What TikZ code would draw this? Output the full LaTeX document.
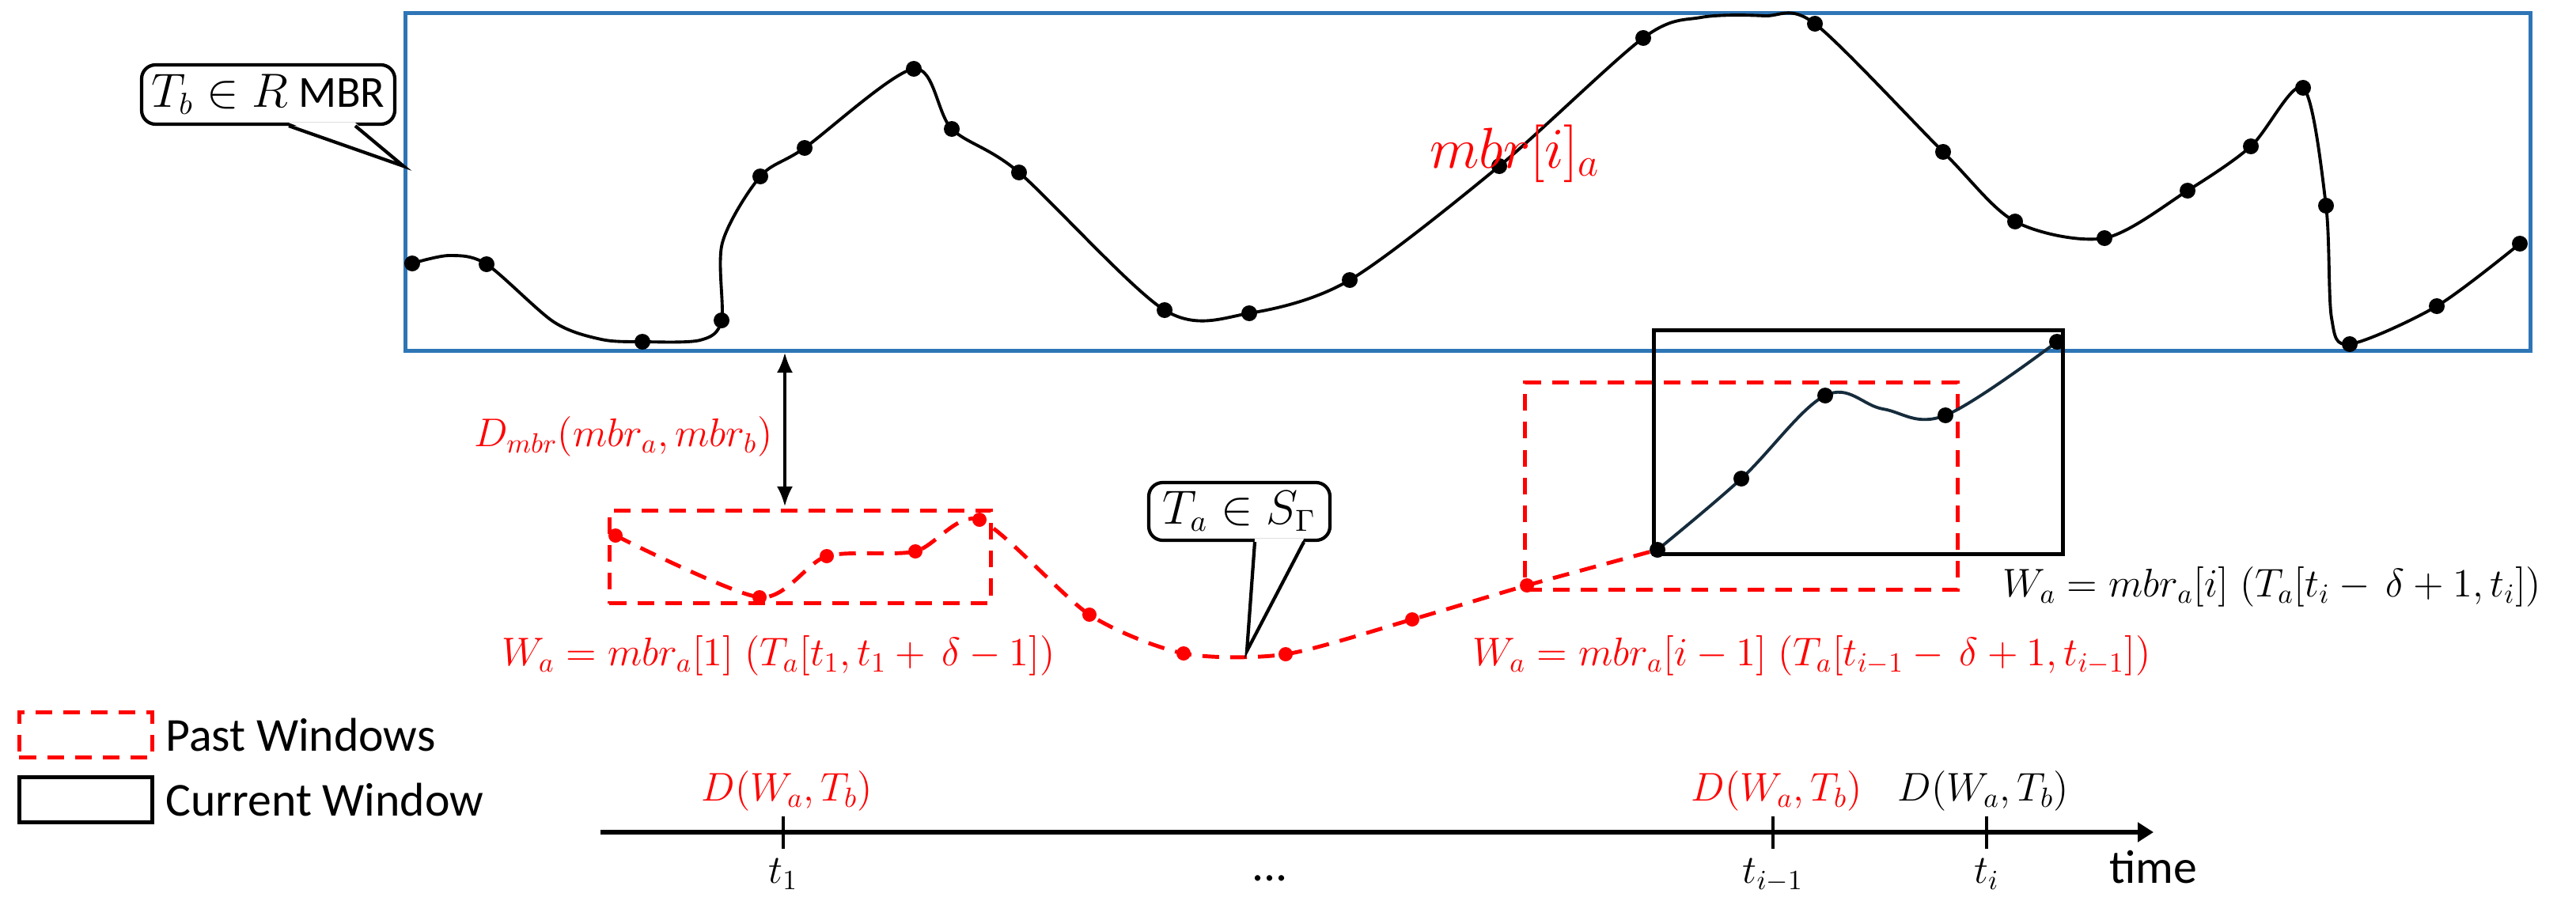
\documentclass[tikz,border=0pt]{standalone}
\usepackage[no-math]{fontspec}
\setmainfont{Carlito}
\usetikzlibrary{arrows.meta,positioning}

\definecolor{mbrblue}{RGB}{46,117,182}
\definecolor{curdark}{RGB}{22,44,60}

\begin{document}
\begin{tikzpicture}[
    mbrframe/.style={draw=mbrblue, line width=1.5pt, inner sep=0pt, anchor=south west},
    pastwin/.style={draw=red, line width=1.4pt, dash pattern=on 6pt off 4pt, inner sep=0pt, anchor=south west},
    curwin/.style={draw=black, line width=1.3pt, inner sep=0pt, anchor=south west},
    callbox/.style={draw, line width=1.2pt, rounded corners=5pt, fill=white, inner sep=0pt, font=\fontsize{16}{18}\selectfont},
    mathlbl/.style={font=\fontsize{14.4}{16}\selectfont, inner sep=0pt},
    textlbl/.style={font=\fontsize{17}{19}\selectfont, inner sep=0pt},
    pastline/.style={red, line width=1.4pt, dash pattern=on 6pt off 4pt},
    tick/.style={line width=1pt}
]
\useasboundingbox (0,0) rectangle (32.56,11.62);

% T_b and its MBR
\node[mbrframe, minimum width=26.86cm, minimum height=4.27cm] (mbrb) at (5.10,7.16) {};
\draw[line width=1.1pt] plot[smooth, tension=0.5] coordinates {
    (5.21,8.29) (5.68,8.39) (6.15,8.28) (7.0,7.55) (7.6,7.33) (8.12,7.30) (8.85,7.32)
    (9.12,7.57) (9.13,8.55) (9.61,9.39) (10.17,9.75) (11.55,10.75) (12.03,9.99)
    (12.88,9.44) (14.72,7.70) (15.79,7.66) (17.06,8.08) (18.95,9.52) (20.77,11.14)
    (21.5,11.40) (22.3,11.42) (22.94,11.32) (24.56,9.70) (25.47,8.82) (26.60,8.61)
    (27.65,9.21) (28.45,9.77) (29.11,10.51) (29.40,9.02) (29.47,7.60) (29.70,7.27)
    (30.80,7.75) (31.85,8.54)};
\foreach \x/\y in {5.21/8.29, 6.15/8.28, 8.12/7.30, 9.12/7.57, 9.61/9.39, 10.17/9.75,
    11.55/10.75, 12.03/9.99, 12.88/9.44, 14.72/7.70, 15.79/7.66, 17.06/8.08, 18.95/9.52,
    20.77/11.14, 22.94/11.32, 24.56/9.70, 25.47/8.82, 26.60/8.61, 27.65/9.21, 28.45/9.77,
    29.11/10.51, 29.40/9.02, 29.70/7.27, 30.80/7.75, 31.85/8.54}
    \fill (\x,\y) circle (0.1);
\node[font=\fontsize{20.74}{24}\selectfont, text=red, anchor=base, inner sep=0pt] (mbrlbl) at (19.15,9.50) {$mbr[i]_a$};

% windows
\node[pastwin, minimum width=4.82cm, minimum height=1.17cm] (pw1) at (7.68,3.97) {};
\node[pastwin, minimum width=5.47cm, minimum height=2.62cm] (pw2) at (19.25,4.14) {};
\node[curwin, minimum width=5.17cm, minimum height=2.83cm] (cw) at (20.88,4.59) {};

% T_a
\draw[pastline] plot[smooth, tension=0.45] coordinates {
    (7.78,4.85) (9.60,4.07) (10.45,4.59) (11.57,4.65) (12.38,5.05) (13.77,3.85)
    (14.96,3.36) (16.25,3.35) (17.85,3.79) (19.30,4.22) (20.95,4.67)};
\foreach \x/\y in {7.78/4.85, 9.60/4.07, 10.45/4.59, 11.57/4.65, 12.38/5.05, 13.77/3.85,
    14.96/3.36, 16.25/3.35, 17.85/3.79, 19.30/4.22}
    \fill[red] (\x,\y) circle (0.09);
\draw[curdark, line width=1.1pt] plot[smooth, tension=0.6] coordinates {
    (20.95,4.67) (22.01,5.57) (23.07,6.62) (23.8,6.45) (24.59,6.37) (26.00,7.30)};
\foreach \x/\y in {20.95/4.67, 22.01/5.57, 23.07/6.62, 24.59/6.37, 26.00/7.30}
    \fill (\x,\y) circle (0.1);

% MBR distance
\coordinate (darr) at (9.92,5.22);
\draw[{Latex[length=2.5mm,width=2mm]}-{Latex[length=2.5mm,width=2mm]}, line width=0.9pt] (darr |- mbrb.south) -- (darr);
\node[mathlbl, text=red, anchor=east] (dmbr) at (9.77,6.10) {$D_{mbr}(mbr_a,mbr_b)$};

% window labels
\node[mathlbl, text=red] (w1) at (9.84,3.33) {$W_a = mbr_a[1]\;(T_a[t_1,t_1+\,\delta-1])$};
\node[mathlbl, text=red] (w2) at (22.90,3.33) {$W_a = mbr_a[i-1]\;(T_a[t_{i-1}-\,\delta+1,t_{i-1}])$};
\node[mathlbl] (wi) at (28.72,4.20) {$W_a = mbr_a[i]\;(T_a[t_i-\,\delta+1,t_i])$};

% callouts
\node[callbox, minimum width=3.20cm, minimum height=0.75cm] (tb) at (3.39,10.425) {$T_b \in R$ MBR};
\coordinate (tbtip) at (5.10,9.52);
\fill[white] ([shift={(0.26,0.04)}]tb.south) -- (tbtip) -- ([shift={(1.10,0.04)}]tb.south) -- cycle;
\draw[line width=1.2pt] ([xshift=0.26cm]tb.south) -- (tbtip) -- ([xshift=1.10cm]tb.south);

\node[callbox, minimum width=2.29cm, minimum height=0.73cm] (ta) at (15.665,5.155) {$T_a \in S_\Gamma$};
\coordinate (tatip) at (15.76,3.39);
\fill[white] ([shift={(0.195,0.04)}]ta.south) -- (tatip) -- ([shift={(0.815,0.04)}]ta.south) -- cycle;
\draw[line width=1.2pt] ([xshift=0.195cm]ta.south) -- (tatip) -- ([xshift=0.815cm]ta.south);

% legend
\node[pastwin, minimum width=1.68cm, minimum height=0.57cm] (lgpast) at (0.22,2.02) {};
\node[textlbl, right=0.14cm of lgpast] (lgpasttxt) {Past Windows};
\node[curwin, minimum width=1.68cm, minimum height=0.57cm] (lgcur) at (0.22,1.20) {};
\node[textlbl, right=0.14cm of lgcur] (lgcurtxt) {Current Window};

% time axis
\coordinate (ax0) at (7.59,1.10);
\coordinate (ax1) at (27.22,1.10);
\draw[line width=1.5pt, -{Triangle[length=2mm,width=2.4mm]}] (ax0) -- (ax1);
\foreach \x/\lab in {9.90/{t_1}, 22.41/{t_{i-1}}, 25.11/{t_i}} {
    \draw[tick] (\x,1.30) -- (\x,0.89);
    \node[mathlbl, anchor=north] at (\x,0.77) {$\lab$};
}
\node[textlbl] (timelbl) at (27.22,0.66) {time};
\node[textlbl] (dots) at (16.05,0.52) {...};
\node[mathlbl, text=red] (d1) at (9.95,1.62) {$D(W_a,T_b)$};
\node[mathlbl, text=red] (d2) at (22.46,1.62) {$D(W_a,T_b)$};
\node[mathlbl] (d3) at (25.07,1.62) {$D(W_a,T_b)$};

\end{tikzpicture}
\end{document}
